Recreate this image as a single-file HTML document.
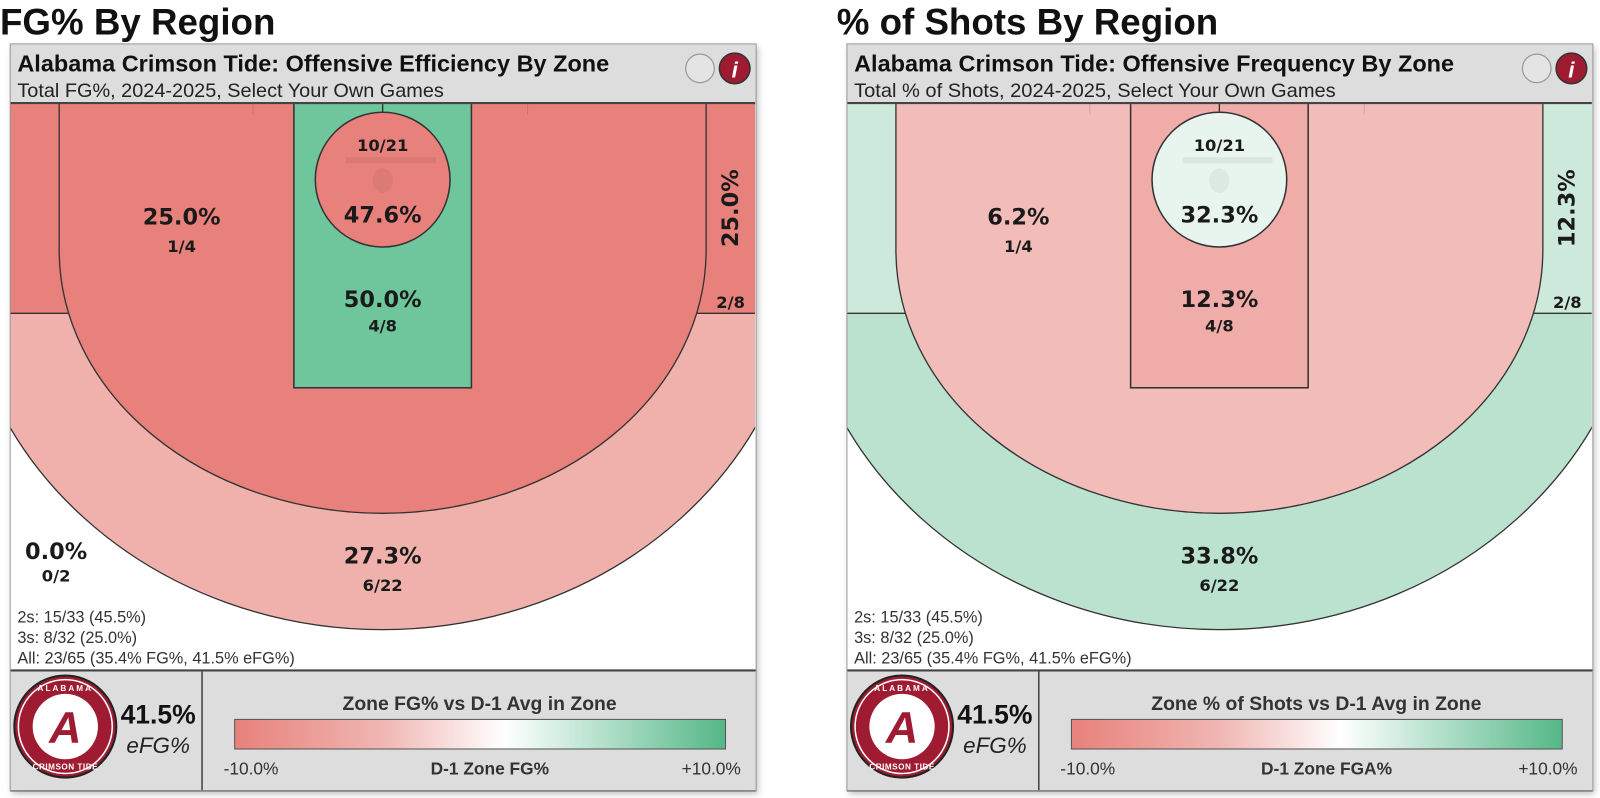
<!DOCTYPE html>
<html><head><meta charset="utf-8">
<style>
html,body{margin:0;padding:0;background:#fff;}
svg{display:block;}
text{font-family:"Liberation Sans",sans-serif;}
.zl{font-family:"DejaVu Sans",sans-serif;font-weight:bold;fill:#1a1a1a;text-anchor:middle;}
</style></head>
<body>
<svg id="chart" width="1600" height="798" viewBox="0 0 1568 782" xmlns="http://www.w3.org/2000/svg">
<defs>
<clipPath id="courtClip"><rect x="10" y="101" width="730" height="556"/></clipPath>
<linearGradient id="grad" x1="0" x2="1" y1="0" y2="0">
<stop offset="0" stop-color="#e8817b"/><stop offset="0.3" stop-color="#f0b6b2"/><stop offset="0.55" stop-color="#ffffff"/><stop offset="0.75" stop-color="#b3e0cb"/><stop offset="1" stop-color="#55b787"/>
</linearGradient>
<filter id="shadow" x="-5%" y="-5%" width="110%" height="110%"><feDropShadow dx="2" dy="3" stdDeviation="3" flood-color="#000" flood-opacity="0.25"/></filter>
</defs>
</svg>
<script>
// ---- data ----
const panelTitles = ["FG% By Region", "% of Shots By Region"];
const headerTitles = ["Alabama Crimson Tide: Offensive Efficiency By Zone", "Alabama Crimson Tide: Offensive Frequency By Zone"];
const subTitles = ["Total FG%, 2024-2025, Select Your Own Games", "Total % of Shots, 2024-2025, Select Your Own Games"];
const zoneNames = ["rim", "paint", "midrange", "right-corner-three", "left-corner-three", "above-break-three"];
const zoneMakes = ["10/21", "4/8", "1/4", "2/8", "0/2", "6/22"];
const fgValues = ["47.6%", "50.0%", "25.0%", "25.0%", "0.0%", "27.3%"];
const freqValues = ["32.3%", "12.3%", "6.2%", "12.3%", "", "33.8%"];
const fgColors = ["#e8817b", "#6fc59c", "#e8817b", "#e8817b", "#e8817b", "#f0b1ac"];
const freqColors = ["#e8f5ef", "#f0aca8", "#f2bcb8", "#cde9dc", "#cde9dc", "#bae2cf"];
const statLines = ["2s: 15/33 (45.5%)", "3s: 8/32 (25.0%)", "All: 23/65 (35.4% FG%, 41.5% eFG%)"];
const efgValue = "41.5%";
const legendTitles = ["Zone FG% vs D-1 Avg in Zone", "Zone % of Shots vs D-1 Avg in Zone"];
const legendMid = ["D-1 Zone FG%", "D-1 Zone FGA%"];
const legendTicks = ["-10.0%", "+10.0%"];

const NS = "http://www.w3.org/2000/svg";
const svg = document.getElementById("chart");
function mk(tag, attrs, parent, txt){
  const e = document.createElementNS(NS, tag);
  for (const k in attrs) e.setAttribute(k, attrs[k]);
  if (txt !== undefined) e.textContent = txt;
  parent.appendChild(e);
  return e;
}

for (let p = 0; p < 2; p++) {
  const vals = p === 0 ? fgValues : freqValues;
  const cols = p === 0 ? fgColors : freqColors;
  const g = mk("g", {transform: "translate(" + (p * 820) + ",0)"}, svg);
  
  

  const h = mk("text", {x: 0, y: 34, "font-size": 36, "font-weight": "bold", fill: "#111"}, g, panelTitles[p]);
  
  

  const card = mk("rect", {x: 10, y: 43, width: 731, height: 732, fill: "#fff", filter: "url(#shadow)"}, g);
  
  

  const hdr = mk("rect", {x: 10, y: 43, width: 731, height: 58, fill: "#dddddd"}, g);
  
  
  const t1 = mk("text", {x: 17, y: 70, "font-size": 23, "font-weight": "bold", fill: "#111", textLength: p === 0 ? 580 : 588, lengthAdjust: "spacingAndGlyphs"}, g, headerTitles[p]);
  
  
  const t2 = mk("text", {x: 17, y: 95, "font-size": 19, fill: "#222", textLength: p === 0 ? 418 : 472, lengthAdjust: "spacingAndGlyphs"}, g, subTitles[p]);
  
  
  const ic1 = mk("circle", {cx: 686, cy: 67, r: 14, fill: "#e4e4e4", stroke: "#999", "stroke-width": 1.2}, g);
  
  
  const ic2 = mk("circle", {cx: 720, cy: 67, r: 15, fill: "#9e1b32", stroke: "#333", "stroke-width": 1.5}, g);
  
  
  mk("text", {x: 720, y: 76, "font-size": 22, "font-style": "italic", "font-weight": "bold", "font-family": "Liberation Serif, serif", fill: "#fff", "text-anchor": "middle"}, g, "i");

  const court = mk("g", {"clip-path": "url(#courtClip)"}, g);
  
  
  mk("rect", {x: 10, y: 101, width: 730, height: 556, fill: "#fff"}, court);
  const outer = mk("ellipse", {cx: 375, cy: 245, rx: 413, ry: 372, fill: cols[5], stroke: "#333", "stroke-width": 1.3}, court);
  
  
  const lc = mk("rect", {x: 10, y: 101, width: 365, height: 206, fill: cols[4]}, court);
  
  
  const rc = mk("rect", {x: 375, y: 101, width: 365, height: 206, fill: cols[3]}, court);
  
  
  mk("line", {x1: 10, y1: 307, x2: 70, y2: 307, stroke: "#333", "stroke-width": 1.3}, court);
  mk("line", {x1: 680, y1: 307, x2: 740, y2: 307, stroke: "#333", "stroke-width": 1.3}, court);
  const mid = mk("path", {d: "M58,95 L58,245 A317,258 0 0 0 692,245 L692,95 Z", fill: cols[2], stroke: "#333", "stroke-width": 1.3}, court);
  
  
  mk("line", {x1: 248, y1: 101, x2: 248, y2: 112, stroke: "rgba(0,0,0,0.12)", "stroke-width": 1}, court);
  mk("line", {x1: 517, y1: 101, x2: 517, y2: 112, stroke: "rgba(0,0,0,0.12)", "stroke-width": 1}, court);
  const paint = mk("rect", {x: 288, y: 95, width: 174, height: 285, fill: cols[1], stroke: "#333", "stroke-width": 1.5}, court);
  
  
  mk("line", {x1: 375, y1: 101, x2: 375, y2: 110, stroke: "#333", "stroke-width": 1.3}, court);
  const rim = mk("circle", {cx: 375, cy: 176, r: 66, fill: cols[0], stroke: "#333", "stroke-width": 1.5}, court);
  
  
  mk("rect", {x: 339, y: 154, width: 88, height: 6, fill: "rgba(0,0,0,0.06)"}, court);
  mk("ellipse", {cx: 375, cy: 177, rx: 10, ry: 12, fill: "rgba(0,0,0,0.05)"}, court);
  mk("line", {x1: 10, y1: 101, x2: 740, y2: 101, stroke: "#444", "stroke-width": 2}, g);

  function lab(x, y, size, txt, name){
    if (!txt) return;
    const e = mk("text", {x: x, y: y, "font-size": size, class: "zl"}, g, txt);
    
    
  }
  lab(375, 148, 16, zoneMakes[0], "rim-makes");
  lab(375, 218, 22, vals[0], "rim-value");
  lab(375, 301, 22, vals[1], "paint-value");
  lab(375, 325, 16, zoneMakes[1], "paint-makes");
  lab(178, 220, 22, vals[2], "midrange-value");
  lab(178, 247, 16, zoneMakes[2], "midrange-makes");
  const rv = mk("text", {x: 0, y: 0, "font-size": 22, class: "zl", transform: "translate(723,204) rotate(-90)"}, g, vals[3]);
  
  
  lab(716, 302, 16, zoneMakes[3], "right-corner-makes");
  if (vals[4]) {
    lab(55, 548, 22, vals[4], "left-corner-value");
    lab(55, 570, 16, zoneMakes[4], "left-corner-makes");
  }
  lab(375, 552, 22, vals[5], "above-break-value");
  lab(375, 579, 16, zoneMakes[5], "above-break-makes");

  statLines.forEach((s, i) => {
    const e = mk("text", {x: 17, y: 610 + i * 20, "font-size": 16, fill: "#333"}, g, s);
    
    
  });

  const ft = mk("rect", {x: 10, y: 657, width: 731, height: 118, fill: "#dddddd"}, g);
  
  
  mk("line", {x1: 10, y1: 657, x2: 741, y2: 657, stroke: "#444", "stroke-width": 2}, g);
  mk("line", {x1: 198, y1: 657, x2: 198, y2: 775, stroke: "#444", "stroke-width": 1.5}, g);
  mk("line", {x1: 10, y1: 775, x2: 741, y2: 775, stroke: "#444", "stroke-width": 1.5}, g);
  const logo = mk("g", {}, g);
  
  
  mk("circle", {cx: 64, cy: 712, r: 50, fill: "#9e1b32", stroke: "#222", "stroke-width": 2}, logo);
  mk("circle", {cx: 64, cy: 712, r: 46, fill: "none", stroke: "#fff", "stroke-width": 1.5}, logo);
  mk("circle", {cx: 64, cy: 712, r: 32, fill: "#fff"}, logo);
  mk("text", {x: 64, y: 728, "font-size": 44, "font-family": "Liberation Serif, serif", "font-style": "italic", "font-weight": "bold", fill: "#9e1b32", "text-anchor": "middle"}, logo, "A");
  mk("text", {x: 64, y: 677, "font-size": 8, "font-weight": "bold", fill: "#fff", "text-anchor": "middle", "letter-spacing": "2"}, logo, "ALABAMA");
  mk("text", {x: 64, y: 754, "font-size": 8, "font-weight": "bold", fill: "#fff", "text-anchor": "middle", "letter-spacing": "0.5"}, logo, "CRIMSON TIDE");
  const ev = mk("text", {x: 155, y: 709, "font-size": 26, "font-weight": "bold", fill: "#111", "text-anchor": "middle"}, g, efgValue);
  
  
  const el = mk("text", {x: 155, y: 738, "font-size": 22, "font-style": "italic", fill: "#222", "text-anchor": "middle"}, g, "eFG%");
  
  
  const lt = mk("text", {x: 470, y: 696, "font-size": 19, "font-weight": "bold", fill: "#333", "text-anchor": "middle"}, g, legendTitles[p]);
  
  
  const bar = mk("rect", {x: 230, y: 705, width: 481, height: 29, fill: "url(#grad)", stroke: "#555", "stroke-width": 1}, g);
  
  
  const l1 = mk("text", {x: 246, y: 759, "font-size": 17, fill: "#333", "text-anchor": "middle"}, g, legendTicks[0]);
  
  
  const l2 = mk("text", {x: 480, y: 759, "font-size": 17, "font-weight": "bold", fill: "#333", "text-anchor": "middle"}, g, legendMid[p]);
  
  
  const l3 = mk("text", {x: 697, y: 759, "font-size": 17, fill: "#333", "text-anchor": "middle"}, g, legendTicks[1]);
  
  
  mk("rect", {x: 10, y: 43, width: 731, height: 732, fill: "none", stroke: "#999", "stroke-width": 1}, g);
}
</script>
</body></html>
